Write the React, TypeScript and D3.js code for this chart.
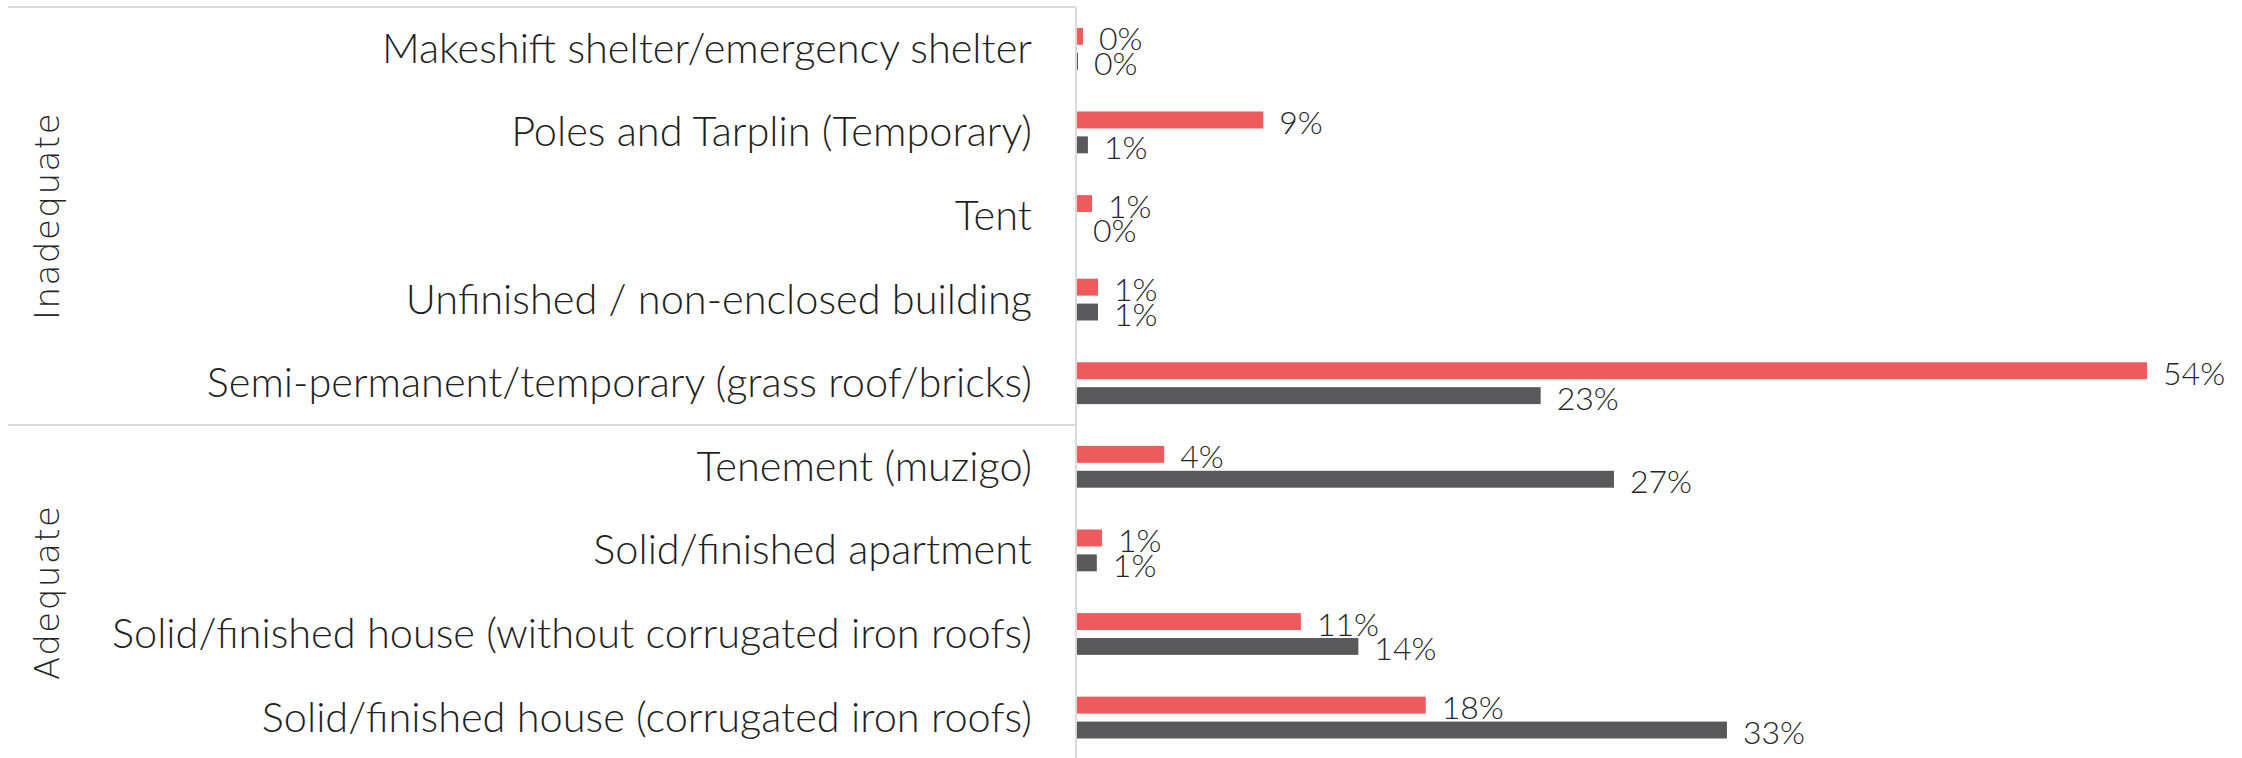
import React from 'react'
import * as d3 from 'd3'

// housing types, top to bottom
const categories = [
  'Makeshift shelter/emergency shelter',
  'Poles and Tarplin (Temporary)',
  'Tent',
  'Unfinished / non-enclosed building',
  'Semi-permanent/temporary (grass roof/bricks)',
  'Tenement (muzigo)',
  'Solid/finished apartment',
  'Solid/finished house (without corrugated iron roofs)',
  'Solid/finished house (corrugated iron roofs)',
]
const groupNames = ['Inadequate', 'Adequate']
const groupSizes = [5, 4]
const seriesKeys = ['red', 'grey']
// percent of households
const redValues = [0.3, 9.4, 0.76, 1.06, 54, 4.4, 1.26, 11.3, 17.6]
const greyValues = [0.05, 0.55, 0, 1.06, 23.4, 27.1, 1.0, 14.2, 32.8]

const W = 2242
const H = 758
const colors = { red: '#EF5A5C', grey: '#59595B' }
const fontLight = "Lato, 'Open Sans', sans-serif"

export default function App() {
  const top = 7
  const step = 83.6
  const axisX = 1076

  const y = d3.scaleBand().domain(categories).range([top, top + step * categories.length]).padding(0)
  const inner = d3.scaleBand().domain(seriesKeys)
    .range([y.bandwidth() * 0.25, y.bandwidth() * 0.75])
    .paddingInner(0.32)
  const x = d3.scaleLinear().domain([0, 54]).range([axisX + 1, 2147])

  const rows = categories.map((c, i) => ({ c, red: redValues[i], grey: greyValues[i] }))

  let start = 0
  const groups = groupNames.map((g, gi) => {
    const y0 = y(categories[start])!
    const y1 = y(categories[start + groupSizes[gi] - 1])! + y.bandwidth()
    start += groupSizes[gi]
    return { g, y0, y1 }
  })

  return (
    <svg width={W} height={H} style={{ position: 'absolute', left: 0, top: 0, background: '#fff' }}>
      {/* group frame lines */}
      {groups.map(({ g, y0 }) => (
        <line key={g} x1={8} x2={axisX} y1={y0} y2={y0} stroke="#d9d9d9" strokeWidth={2} />
      ))}
      <line x1={axisX} x2={axisX} y1={top} y2={H} stroke="#d9d9d9" strokeWidth={2} />

      {/* group labels */}
      {groups.map(({ g, y0, y1 }) => (
        <text key={g}
          transform={`translate(47, ${(y0 + y1) / 2}) rotate(-90)`}
          textAnchor="middle" dominantBaseline="central"
          fontFamily="'DejaVu Sans', sans-serif" fontSize={34} fontWeight={300}
          letterSpacing={1.5} fill="#262626">
          {g}
        </text>
      ))}

      {/* category labels */}
      {rows.map(r => (
        <text key={r.c} x={1032} y={y(r.c)! + y.bandwidth() / 2 + 14}
          textAnchor="end" fontFamily={fontLight} fontWeight={300} fontSize={41.5} fill="#1f1f1f">
          {r.c}
        </text>
      ))}

      {/* bars + value labels */}
      {rows.map(r => (
        <g key={r.c} transform={`translate(0, ${y(r.c)})`}>
          {seriesKeys.map(k => {
            const v = r[k as 'red' | 'grey']
            const by = inner(k)!
            return (
              <g key={k}>
                <rect x={x(0)} y={by} width={x(v) - x(0)} height={inner.bandwidth()} fill={colors[k as 'red' | 'grey']} />
                <text x={x(v) + 16} y={by + inner.bandwidth() / 2 + 14}
                  fontFamily={fontLight} fontWeight={300} fontSize={32} fill="#262626">
                  {Math.round(v)}%
                </text>
              </g>
            )
          })}
        </g>
      ))}
    </svg>
  )
}
